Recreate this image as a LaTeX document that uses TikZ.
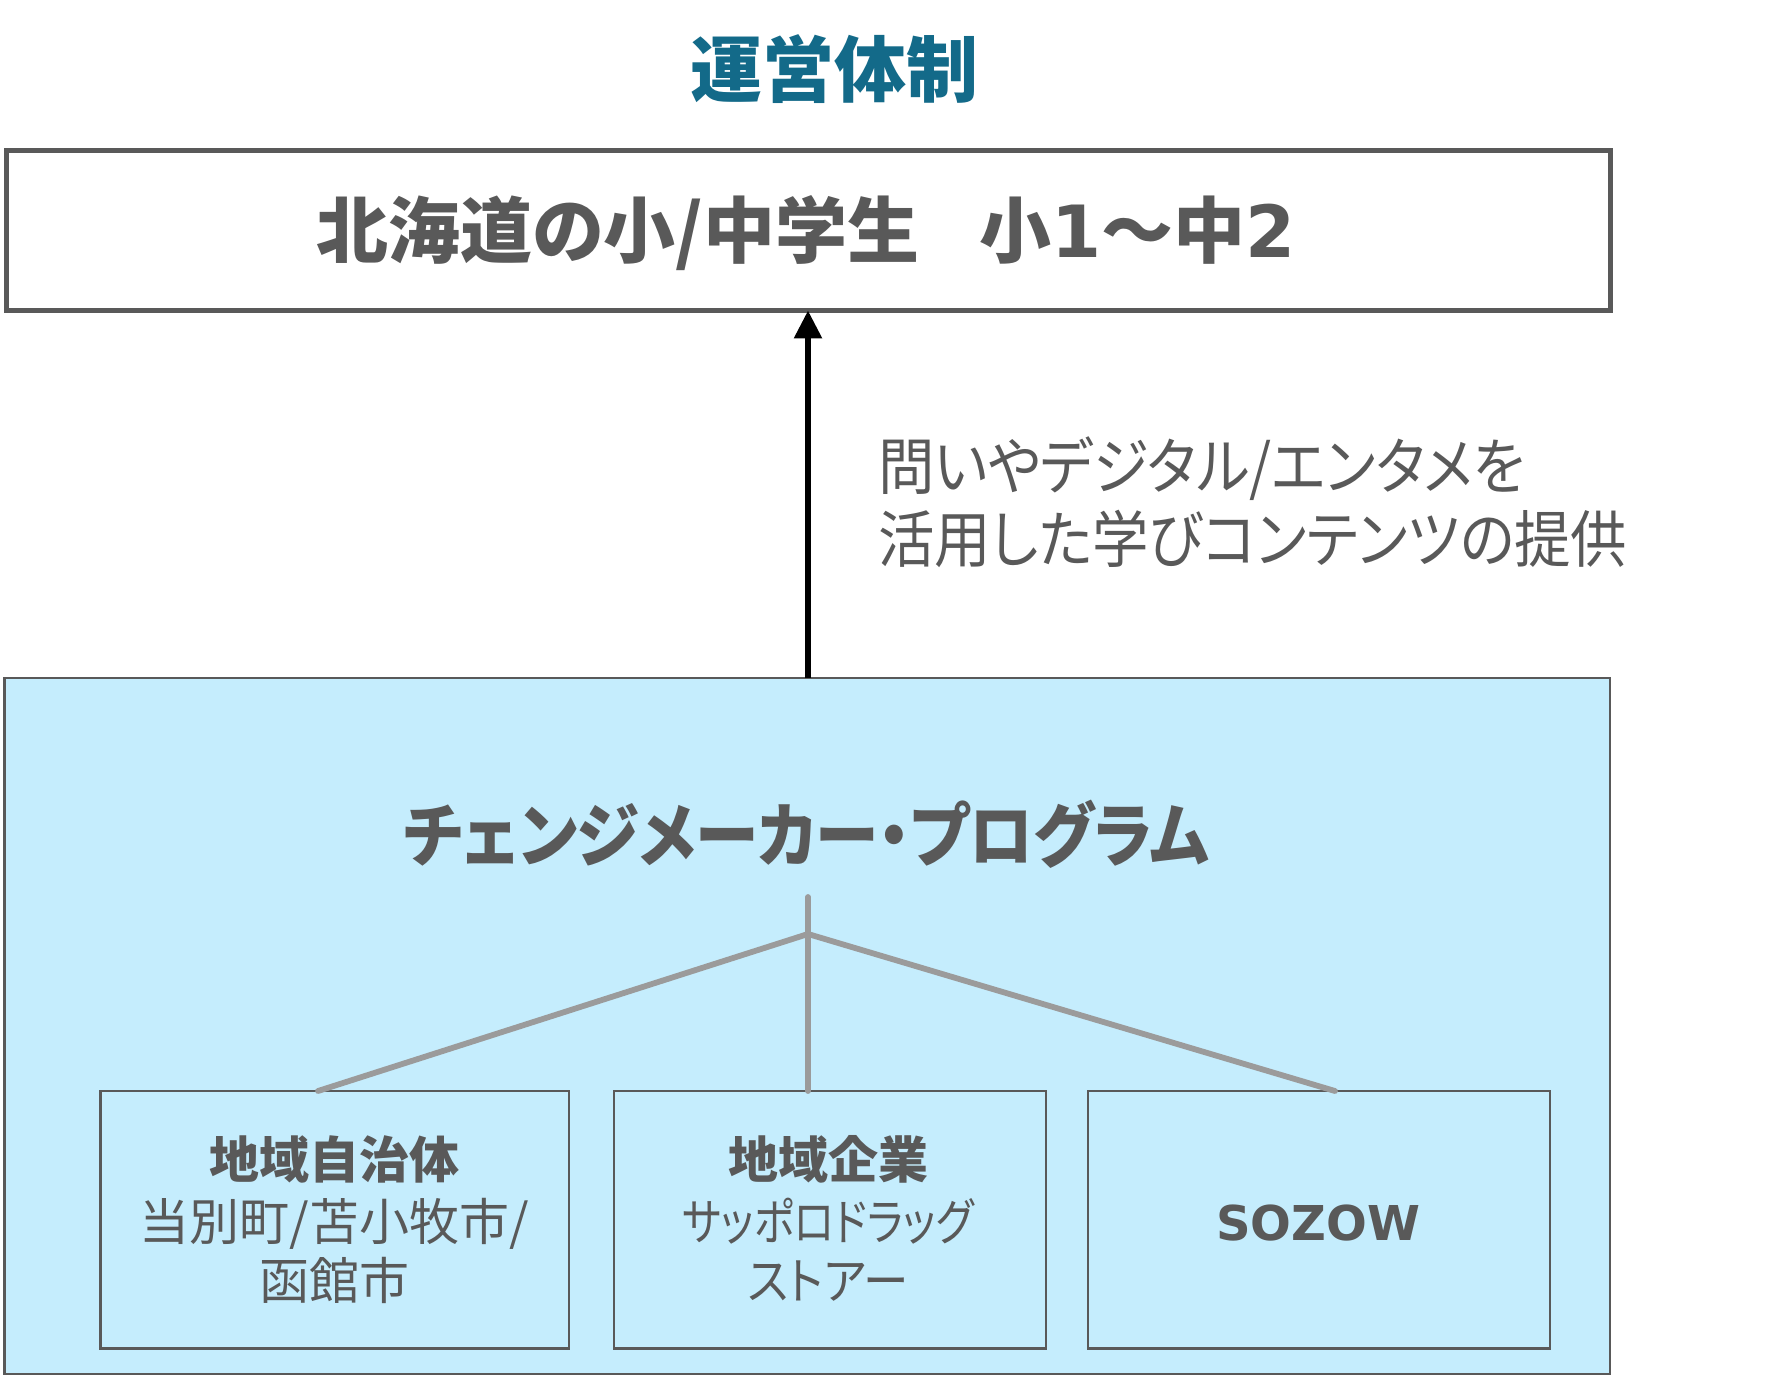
\documentclass[tikz,border=0pt]{standalone}
\usepackage{fontspec}
\setmainfont{Noto Sans CJK JP}[RawFeature=+palt]
\newfontfamily\jpnine{Noto Sans CJK JP}[RawFeature=+palt,FakeStretch=0.91]
\newfontfamily\jpeight{Noto Sans CJK JP}[RawFeature=+palt,FakeStretch=0.83]
\newfontfamily\latinb{DejaVu Sans}
\usetikzlibrary{arrows.meta}
\definecolor{txt}{HTML}{595959}
\definecolor{ttl}{HTML}{136A89}
\definecolor{pale}{HTML}{C5EDFD}
\definecolor{conn}{HTML}{9B9B9B}
\begin{document}
\begin{tikzpicture}[x=0.5pt,y=-0.5pt,
  lbl/.style={inner sep=0pt,outer sep=0pt,text=txt},
  frame/.style={draw=txt,rectangle,inner sep=0pt,outer sep=0pt},
  smallbox/.style={frame,line width=1.35pt,fill=pale,minimum height=128.75pt},
  link/.style={draw=conn,line width=2.9pt,line cap=round}]
\useasboundingbox (0,0) rectangle (1782,1379);
% title
\node[lbl,text=ttl,anchor=base,font=\fontsize{36}{40}\selectfont\bfseries] (title) at (834,97) {運営体制};
% top box
\node[frame,line width=2.5pt,minimum width=802pt,minimum height=79.75pt] (top) at (808,230.75) {};
\node[lbl,anchor=base,font=\fontsize{36}{40}\selectfont\bfseries] (toptext) at (806,258) {北海道の小/中学生\hspace{30pt}小{\latinb 1}～中{\latinb 2}};
% big box
\node[frame,line width=1.35pt,fill=pale,minimum width=802.75pt,minimum height=348pt] (big) at (807.25,1026) {};
% arrow
\draw[line width=2.9pt,black,-{Triangle[length=14pt,width=13.5pt]}] (big.north -| top.south) -- (top.south);
% label
\node[lbl,anchor=base west,font=\fontsize{31}{36}\selectfont\jpnine] (lab1) at (878,490) {問いやデジタル/エンタメを};
\node[lbl,anchor=base west,font=\fontsize{31}{36}\selectfont\jpnine] (lab2) at (878,562) {活用した学びコンテンツの提供};
% program title
\node[lbl,anchor=base,font=\fontsize{35}{40}\selectfont\jpnine\bfseries] (prog) at (806,861) {チェンジメーカー・プログラム};
% small boxes
\node[smallbox,minimum width=234.15pt] (b1) at (334.85,1219.6) {};
\node[smallbox,minimum width=216pt] (b2) at (830,1219.6) {};
\node[smallbox,minimum width=231pt] (b3) at (1319,1219.6) {};
% connectors
\coordinate (hub) at (808,934);
\coordinate (stem) at (808,897);
\coordinate (e1) at (318,1091);
\coordinate (e2) at (808,1091);
\coordinate (e3) at (1335,1091);
\draw[link] (stem) -- (e2);
\draw[link] (e1) -- (hub) -- (e3);
% box texts
\node[lbl,anchor=base,font=\fontsize{25}{30}\selectfont\bfseries] (t11) at (334.5,1178) {地域自治体};
\node[lbl,anchor=base,font=\fontsize{25}{30}\selectfont] (t12) at (334.5,1240) {当別町/苫小牧市/};
\node[lbl,anchor=base,font=\fontsize{25}{30}\selectfont] (t13) at (334.5,1299) {函館市};
\node[lbl,anchor=base,font=\fontsize{25}{30}\selectfont\bfseries] (t21) at (828,1178) {地域企業};
\node[lbl,anchor=base,font=\fontsize{25}{30}\selectfont\jpeight] (t22) at (828,1240) {サッポロドラッグ};
\node[lbl,anchor=base,font=\fontsize{25}{30}\selectfont\jpnine] (t23) at (828,1299) {ストアー};
\node[lbl,anchor=base,font=\fontsize{24}{30}\selectfont\latinb\bfseries] (t31) at (1318,1240) {SOZOW};
\end{tikzpicture}
\end{document}
